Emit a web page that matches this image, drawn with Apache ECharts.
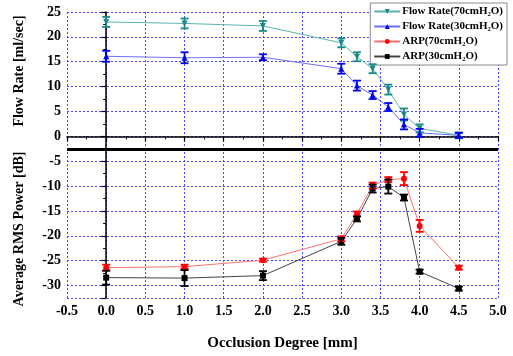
<!DOCTYPE html>
<html><head><meta charset="utf-8">
<script src="https://cdn.jsdelivr.net/npm/echarts@6/dist/echarts.min.js"></script>
<style>html,body{margin:0;padding:0;background:#fff}#c{width:513px;height:356px}</style>
</head><body><div id="c"></div>
<script>
var xValues = [0, 1, 2, 3, 3.2, 3.4, 3.6, 3.8, 4.0, 4.5];
var flow70 = [23.0, 22.7, 22.2, 18.8, 16.0, 13.6, 9.4, 4.4, 1.6, 0.2];
var flow70Err = [1.0, 1.0, 1.0, 0.9, 0.9, 0.9, 1.0, 1.2, 0.8, 0.6];
var flow30 = [16.1, 15.8, 15.9, 13.6, 10.2, 8.3, 5.9, 2.4, 0.7, 0.2];
var flow30Err = [1.1, 1.1, 0.6, 1.0, 1.0, 0.8, 0.8, 1.0, 0.8, 0.5];
var arp70 = [-26.4, -26.2, -24.9, -20.6, -15.6, -9.9, -8.7, -8.5, -18.0, -26.4];
var arp70Err = [0.6, 0.4, 0.3, 0.5, 0.5, 0.6, 0.5, 1.3, 1.2, 0.4];
var arp30 = [-28.4, -28.5, -28.0, -21.1, -16.6, -10.5, -10.1, -12.3, -27.2, -30.6];
var arp30Err = [1.4, 1.6, 0.9, 0.7, 0.5, 0.8, 1.4, 0.6, 0.4, 0.4];
var dividerValue = -2.5;
var names = ['Flow Rate(70cmH\u2082O)', 'Flow Rate(30cmH\u2082O)', 'ARP(70cmH\u2082O)', 'ARP(30cmH\u2082O)'];

var FONT = '"Liberation Serif", "Times New Roman", serif';
function pairs(v){ return xValues.map(function(x,i){ return [x, v[i]]; }); }
function errs(v,e){ return xValues.map(function(x,i){ return [x, v[i]-e[i], v[i]+e[i]]; }); }
function errSeries(v,e,color){
  return {
    type:'custom', data: errs(v,e), z: 5, silent:true,
    encode:{x:0,y:[1,2]},
    renderItem:function(params, api){
      var x = api.value(0);
      var lo = api.coord([x, api.value(1)]);
      var hi = api.coord([x, api.value(2)]);
      var w = 4;
      var st = {stroke: color, lineWidth: 1.8};
      return {type:'group', children:[
        {type:'line', shape:{x1:lo[0],y1:lo[1],x2:hi[0],y2:hi[1]}, style:st},
        {type:'line', shape:{x1:lo[0]-w,y1:lo[1],x2:lo[0]+w,y2:lo[1]}, style:st},
        {type:'line', shape:{x1:hi[0]-w,y1:hi[1],x2:hi[0]+w,y2:hi[1]}, style:st}
      ]};
    }
  };
}
function lineSeries(name, v, lineColor, markColor, symbol, rot){
  return {
    name:name, type:'line', data: pairs(v), symbol: symbol, symbolSize: 6, symbolRotate: rot||0,
    lineStyle:{color: lineColor, width: 1}, itemStyle:{color: markColor}, z: 4
  };
}
var chart = echarts.init(document.getElementById('c'));
var s1 = lineSeries(names[0], flow70, '#5ab5ae', '#1a8a86', 'triangle', 180);
s1.markLine = {silent:true, symbol:['none','none'], label:{show:false},
  lineStyle:{color:'#000', width:3, type:'solid'}, data:[{yAxis: dividerValue}]};
chart.setOption({
  animation:false,
  grid:{left:67, right:15, top:12, bottom:58},
  legend:{
    orient:'vertical', right:6, top:3, padding:[3,4,3,3], itemGap:4,
    itemWidth:26, itemHeight:6,
    borderColor:'#888', borderWidth:1, backgroundColor:'#fff',
    textStyle:{fontFamily:FONT, fontWeight:'bold', fontSize:11, color:'#000', padding:[0,0,0,-3]},
    data: names
  },
  xAxis:{
    type:'value', min:-0.5, max:5, interval:0.5,
    name:'Occlusion Degree [mm]', nameLocation:'middle', nameGap:38,
    nameTextStyle:{fontFamily:FONT, fontWeight:'bold', fontSize:15, color:'#000'},
    axisLine:{lineStyle:{color:'#000', width:1.5}},
    axisTick:{show:true, length:5, lineStyle:{color:'#000', width:1.2}},
    minorTick:{show:true, splitNumber:2, length:3, lineStyle:{color:'#000'}},
    axisLabel:{fontFamily:FONT, fontWeight:'bold', fontSize:14, color:'#000', margin:6,
      formatter:function(v){ return v.toFixed(1); }},
    splitLine:{show:true, lineStyle:{color:'#4848ff', width:1, type:[2,2]}}
  },
  yAxis:{
    type:'value', min:-32.5, max:25, splitNumber:11,
    axisLine:{show:true, lineStyle:{color:'#000', width:1.5}},
    axisTick:{show:true, length:5, lineStyle:{color:'#000', width:1.2}},
    minorTick:{show:true, splitNumber:2, length:3, lineStyle:{color:'#000'}},
    axisLabel:{fontFamily:FONT, fontWeight:'bold', fontSize:14, color:'#000', margin:6,
      formatter:function(v){ return (Math.abs(v % 5) < 1e-6) ? String(v) : ''; }},
    splitLine:{show:true, lineStyle:{color:'#4848ff', width:1, type:[2,2]}}
  },
  graphic:[
    {type:'text', x:19, y:71, rotation:Math.PI/2,
      style:{text:'Flow Rate [ml/sec]', font:'bold 14px '+FONT, fill:'#000', align:'center', verticalAlign:'middle'}},
    {type:'text', x:19, y:229, rotation:Math.PI/2,
      style:{text:'Average RMS Power [dB]', font:'bold 14px '+FONT, fill:'#000', align:'center', verticalAlign:'middle'}}
  ],
  series:[
    s1,
    lineSeries(names[1], flow30, '#6d6dff', '#0000ee', 'triangle', 0),
    lineSeries(names[2], arp70, '#ff7070', '#ff0000', 'circle', 0),
    lineSeries(names[3], arp30, '#444444', '#000000', 'rect', 0),
    errSeries(flow70, flow70Err, '#1a8a86'),
    errSeries(flow30, flow30Err, '#0000ee'),
    errSeries(arp70, arp70Err, '#ff0000'),
    errSeries(arp30, arp30Err, '#000000')
  ]
});
</script></body></html>
